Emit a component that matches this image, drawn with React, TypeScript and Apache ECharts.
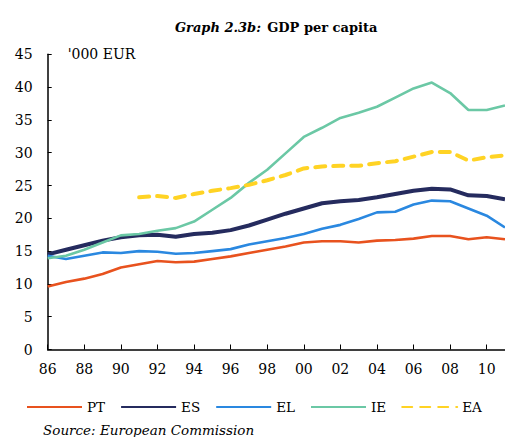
import React, { useEffect, useRef } from "react";
import * as echarts from "echarts";

const years: number[] = [];
for (let y = 1986; y <= 2011; y++) years.push(y);

const PT = [9.6, 10.3, 10.8, 11.5, 12.5, 13.0, 13.5, 13.3, 13.4, 13.8, 14.2, 14.7, 15.2, 15.7, 16.3, 16.5, 16.5, 16.3, 16.6, 16.7, 16.9, 17.3, 17.3, 16.8, 17.1, 16.8];
const ES = [14.5, 15.2, 15.9, 16.6, 17.1, 17.4, 17.5, 17.2, 17.6, 17.8, 18.2, 18.9, 19.8, 20.7, 21.5, 22.3, 22.6, 22.8, 23.2, 23.7, 24.2, 24.5, 24.4, 23.5, 23.4, 22.9];
const EL = [14.3, 13.8, 14.3, 14.8, 14.7, 15.0, 14.9, 14.6, 14.7, 15.0, 15.3, 16.0, 16.5, 17.0, 17.6, 18.4, 19.0, 19.9, 20.9, 21.0, 22.1, 22.7, 22.6, 21.5, 20.4, 18.6];
const IE = [13.9, 14.3, 15.2, 16.3, 17.4, 17.6, 18.1, 18.5, 19.5, 21.3, 23.1, 25.4, 27.4, 29.9, 32.4, 33.8, 35.3, 36.1, 37.0, 38.4, 39.8, 40.7, 39.1, 36.5, 36.5, 37.2];
const EA: (number | null)[] = [null, null, null, null, null, 23.2, 23.4, 23.1, 23.7, 24.2, 24.6, 25.1, 25.8, 26.6, 27.6, 27.9, 28.0, 28.0, 28.4, 28.7, 29.4, 30.1, 30.1, 28.8, 29.3, 29.6];

const seriesNames = ["PT", "ES", "EL", "IE", "EA"];
const seriesColors = ["#E8521E", "#252B5E", "#2A88E0", "#6BC8A5", "#FFD324"];
const seriesValues = [PT, ES, EL, IE, EA];

const FONT = "DejaVu Serif";

export default function App() {
  const ref = useRef<HTMLDivElement>(null);
  useEffect(() => {
    if (!ref.current) return;
    const chart = echarts.init(ref.current, undefined, { renderer: "svg" });
    const series = seriesNames.map((name, i) => {
      const vals = seriesValues[i];
      const data: [number, number][] = [];
      years.forEach((y, k) => {
        const v = vals[k];
        if (v !== null && v !== undefined) data.push([y, v]);
      });
      const isEA = name === "EA";
      const isES = name === "ES";
      return {
        name,
        type: "line",
        data,
        showSymbol: false,
        symbol: "none",
        smooth: false,
        clip: true,
        lineStyle: {
          color: seriesColors[i],
          width: isEA || isES ? 4 : 2.6,
          type: isEA ? [10, 8] : "solid",
          cap: isEA ? "round" : "butt",
        },
        itemStyle: { color: seriesColors[i] },
      };
    });
    chart.setOption({
      animation: false,
      backgroundColor: "#ffffff",
      textStyle: { fontFamily: FONT },
      title: {
        text: "{i|Graph 2.3b:} {b|GDP per capita}",
        left: 170,
        top: 13,
        textStyle: {
          fontFamily: FONT,
          rich: {
            i: { fontStyle: "italic", fontSize: 13, fontFamily: FONT, color: "#000" },
            b: { fontWeight: "bold", fontSize: 13, fontFamily: FONT, color: "#000" },
          },
        },
      },
      grid: { left: 47.7, top: 54.3, width: 460, height: 295.2, containLabel: false },
      legend: {
        data: seriesNames,
        left: 21,
        top: 395,
        itemWidth: 55,
        itemHeight: 14,
        itemGap: 15,
        itemStyle: { opacity: 0 },
        textStyle: { fontFamily: FONT, fontSize: 13.5, color: "#000" },
      },
      xAxis: {
        type: "value",
        min: 1986,
        max: 2011,
        interval: 2,
        axisLine: { show: true, lineStyle: { color: "#000", width: 1.5 } },
        axisTick: { show: true, inside: true, length: 5, lineStyle: { color: "#000", width: 1 } },
        splitLine: { show: false },
        axisLabel: {
          showMaxLabel: false,
          margin: 12,
          fontFamily: FONT,
          fontSize: 14,
          color: "#000",
          formatter: (v: number) => (Math.round(v) % 2 === 0 ? String(Math.round(v) % 100).padStart(2, "0") : ""),
        },
      },
      yAxis: {
        type: "value",
        min: 0,
        max: 45,
        interval: 5,
        name: "'000 EUR",
        nameLocation: "end",
        nameGap: 0,
        nameTextStyle: { fontFamily: FONT, fontSize: 14, color: "#000", align: "left", verticalAlign: "middle", padding: [0, 0, 0, 20] },
        axisLine: { show: true, lineStyle: { color: "#000", width: 1.5 } },
        axisTick: { show: true, inside: true, length: 4, lineStyle: { color: "#000", width: 1 } },
        splitLine: { show: false },
        axisLabel: { margin: 15, fontFamily: FONT, fontSize: 14, color: "#000" },
      },
      graphic: [
        {
          type: "text",
          left: 43,
          top: 423,
          style: { text: "Source: European Commission", fontFamily: FONT, fontStyle: "italic", fontSize: 13.5, fill: "#000" },
        },
      ],
      series,
    });
    return () => chart.dispose();
  }, []);
  return <div ref={ref} style={{ position: "fixed", left: 0, top: 0, width: 505, height: 437 }} />;
}
